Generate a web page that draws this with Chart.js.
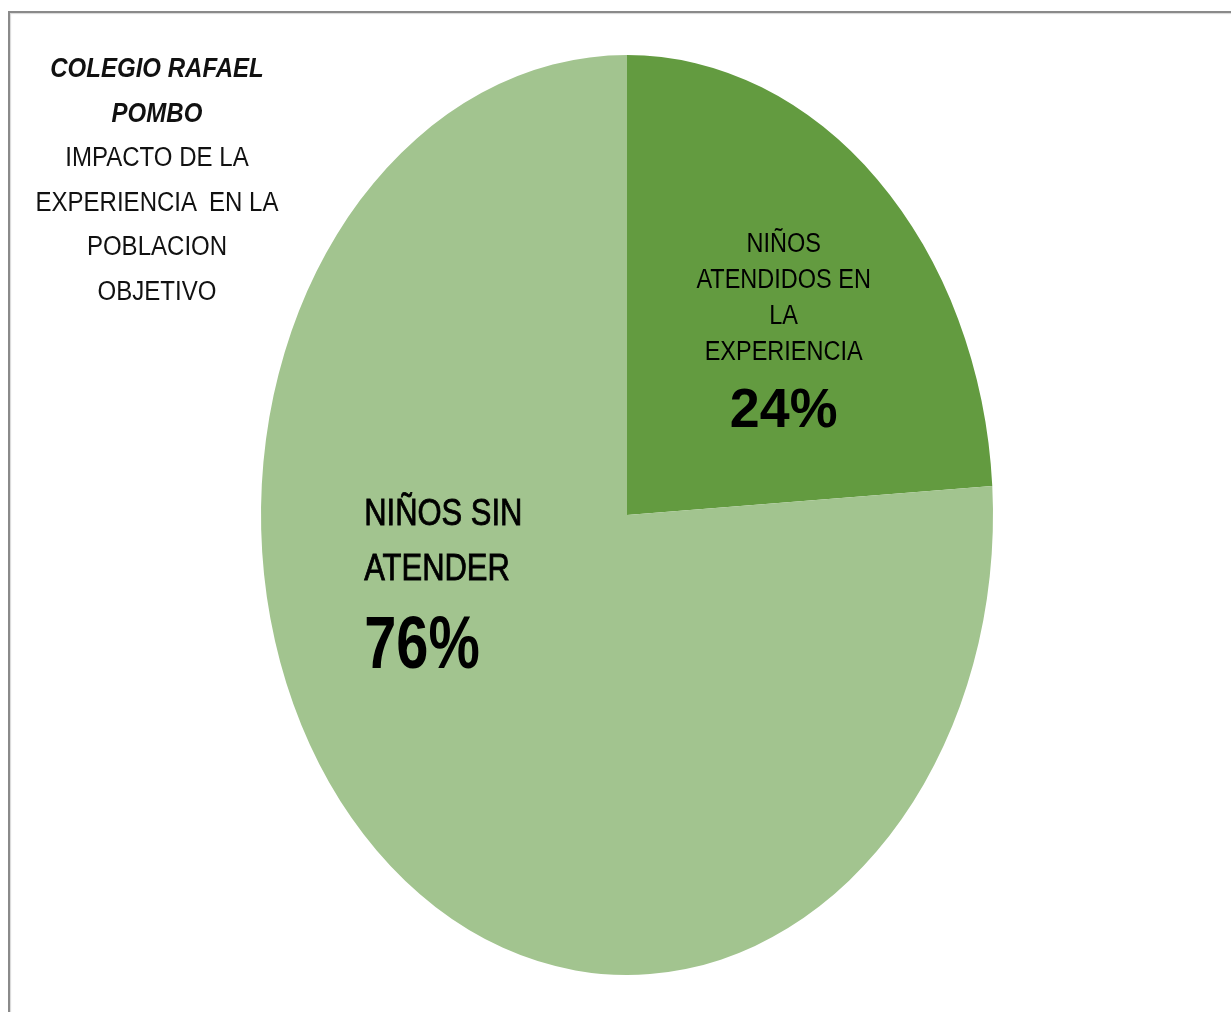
<!DOCTYPE html>
<html>
<head>
<meta charset="utf-8">
<script src="https://cdn.jsdelivr.net/npm/chart.js@4.4.1/dist/chart.umd.min.js"></script>
<style>
  html, body { margin: 0; padding: 0; background: #fff; overflow: hidden; }
  #wrap { position: relative; width: 1231px; height: 1012px; }
  #frame {
    position: absolute; left: 8px; top: 11px; right: -10px; bottom: -10px;
    border-top: 2px solid #8a8a8a; border-left: 2px solid #8a8a8a;
    box-shadow: inset 1px 1px 1px #d8d8d8;
  }
  #grafica { position: absolute; left: 0; top: 0; }
  #titulo {
    position: absolute; left: 17px; top: 46px; width: 280px;
    text-align: center; font-family: "Liberation Sans", Arial, sans-serif;
    color: #111; font-size: 27px; line-height: 44.5px;
    transform: scaleX(0.89); transform-origin: 140px 0;
  }
  #titulo b { font-style: italic; font-size: 27px; }
</style>
</head>
<body>
<div id="wrap">
  <div id="frame"></div>
  <canvas id="grafica" width="1231" height="1012"></canvas>
  <div id="titulo"><b>COLEGIO RAFAEL<br>POMBO</b><br>IMPACTO DE LA<br>EXPERIENCIA &nbsp;EN LA<br>POBLACION<br>OBJETIVO</div>
</div>
<script>
// ─── DATOS ────────────────────────────────────────────────────────────────
const categorias = [
  ['NIÑOS', 'ATENDIDOS EN', 'LA', 'EXPERIENCIA'],
  ['NIÑOS SIN', 'ATENDER']
];
const porcentajes = [24, 76];
const colores = ['#639B40', '#A2C48F'];

// la torta original es una elipse, mas alta que ancha
const escalaY = 460 / 366;
const fuente = '"Liberation Sans", Arial, sans-serif';

// texto algo condensado (el original usa una letra estrecha)
function texto(ctx, t, x, y, k, grueso) {
  const w = ctx.measureText(t).width * k;
  ctx.fillText(t, x, y, w);
  if (grueso) {
    ctx.lineWidth = grueso;
    ctx.strokeText(t, x, y, w);
  }
}

// ─── PLUGIN: ESTIRAR VERTICALMENTE ────────────────────────────────────────
const elipse = {
  id: 'elipse',
  beforeDatasetsDraw(chart) {
    const arc = chart.getDatasetMeta(0).data[0];
    const ctx = chart.ctx;
    ctx.save();
    ctx.translate(0, arc.y);
    ctx.scale(1, escalaY);
    ctx.translate(0, -arc.y);
  },
  afterDatasetsDraw(chart) {
    chart.ctx.restore();
  }
};

// ─── PLUGIN: ETIQUETAS ────────────────────────────────────────────────────
const etiquetas = {
  id: 'etiquetas',
  afterDraw(chart) {
    const ctx = chart.ctx;
    const arcs = chart.getDatasetMeta(0).data;
    const cx = arcs[0].x, cy = arcs[0].y, r = arcs[0].outerRadius;
    ctx.save();
    ctx.fillStyle = '#000';
    ctx.strokeStyle = '#000';
    ctx.textBaseline = 'middle';

    // 24% - centrado dentro de la porcion oscura
    let x = cx + r * 0.428, y = cy - r * 0.738;
    ctx.textAlign = 'center';
    ctx.font = '27px ' + fuente;
    categorias[0].forEach((t, i) => texto(ctx, t, x, y + i * 36, 0.87));
    ctx.font = 'bold 56px ' + fuente;
    texto(ctx, porcentajes[0] + '%', x, y + 167, 0.96);

    // 76% - alineado a la izquierda
    x = cx - r * 0.718; y = cy;
    ctx.textAlign = 'left';
    ctx.font = '36px ' + fuente;
    categorias[1].forEach((t, i) => texto(ctx, t, x, y + i * 55, 0.86, 0.8));
    ctx.font = 'bold 74px ' + fuente;
    texto(ctx, porcentajes[1] + '%', x, y + 133, 0.78);
    ctx.restore();
  }
};

// ─── GRAFICA ──────────────────────────────────────────────────────────────
const chart = new Chart(document.getElementById('grafica'), {
  type: 'pie',
  data: {
    labels: categorias.map(c => c.join(' ')),
    datasets: [{
      data: porcentajes,
      backgroundColor: colores,
      borderWidth: 0
    }]
  },
  options: {
    responsive: false,
    animation: false,
    layout: { padding: { left: 261, right: 238, top: 149, bottom: 131 } },
    plugins: {
      legend: { display: false },
      tooltip: { enabled: false }
    }
  },
  plugins: [elipse, etiquetas]
});
</script>
</body>
</html>
